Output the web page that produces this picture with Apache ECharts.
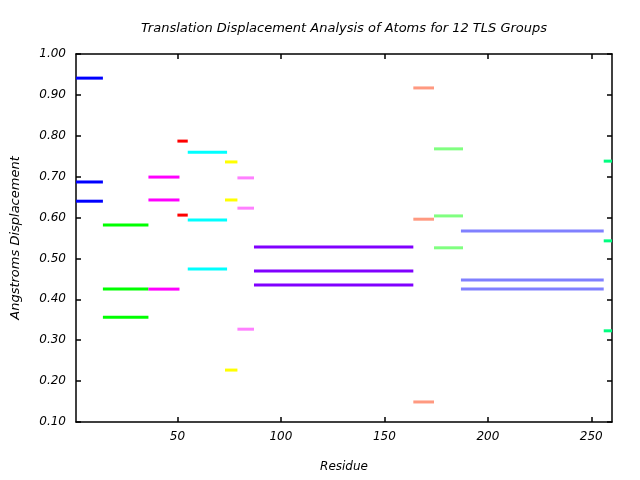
<!DOCTYPE html>
<html>
<head>
<meta charset="utf-8">
<script src="https://cdn.jsdelivr.net/npm/echarts@6/dist/echarts.min.js"></script>
<style>html,body{margin:0;padding:0;background:#fff}#c{width:640px;height:480px}</style>
</head>
<body>
<div id="c"></div>
<script>
// TLS groups: residue ranges and three translation displacement values each
const groupNames = ['TLS 1','TLS 2','TLS 3','TLS 4','TLS 5','TLS 6','TLS 7','TLS 8','TLS 9','TLS 10','TLS 11','TLS 12'];
const groupStart = [1, 14, 36, 50, 55, 73, 79, 87, 164, 174, 187, 256];
const groupEnd   = [14, 36, 51, 55, 74, 79, 87, 164, 174, 188, 256, 260];
const groupValues = [
  [0.941, 0.687, 0.640],
  [0.582, 0.425, 0.356],
  [0.699, 0.643, 0.425],
  [0.787, 0.606],
  [0.760, 0.594, 0.474],
  [0.736, 0.643, 0.227],
  [0.697, 0.623, 0.327],
  [0.528, 0.469, 0.435],
  [0.917, 0.596, 0.149],
  [0.768, 0.604, 0.526],
  [0.567, 0.447, 0.425],
  [0.738, 0.543, 0.323]
];
const groupColors = ['#0000ff','#00ff00','#ff00ff','#ff0000','#00ffff','#ffff00','#ff80ff','#8000ff','#ff9980','#80ff80','#8080ff','#00ff80'];
const xTicks = [50, 100, 150, 200, 250];
const yTicks = [0.1, 0.2, 0.3, 0.4, 0.5, 0.6, 0.7, 0.8, 0.9, 1.0];

const FONT = 'DejaVu Sans';
const base = {fontFamily: FONT, fontStyle: 'italic', color: '#000'};
const tickLab = Object.assign({fontSize: 12}, base);

const series = groupNames.map((name, g) => ({
  name: name,
  type: 'custom',
  coordinateSystem: 'cartesian2d',
  xAxisIndex: 0, yAxisIndex: 0,
  data: groupValues[g].map(v => [groupStart[g], groupEnd[g], v]),
  encode: {x: [0, 1], y: 2},
  clip: false,
  renderItem: function (params, api) {
    const p1 = api.coord([api.value(0), api.value(2)]);
    const p2 = api.coord([api.value(1), api.value(2)]);
    return {
      type: 'line',
      shape: {x1: p1[0], y1: p1[1], x2: p2[0], y2: p2[1]},
      style: {stroke: groupColors[g], lineWidth: 3}
    };
  }
}));

const axisLine = {show: true, onZero: false, lineStyle: {color: '#000', width: 1.5}};
const tick = {show: true, inside: true, length: 5, lineStyle: {color: '#000', width: 1.5}};

const chart = echarts.init(document.getElementById('c'));
chart.setOption({
  animation: false,
  backgroundColor: '#fff',
  title: {
    text: 'Translation Displacement Analysis of Atoms for 12 TLS Groups',
    left: 339, top: 17, textAlign: 'center',
    textStyle: Object.assign({fontWeight: 'normal', fontSize: 13}, base)
  },
  grid: {left: 76, right: 28, top: 54, bottom: 58},
  xAxis: [{
    type: 'value', min: 1, max: 260, position: 'bottom',
    name: 'Residue', nameLocation: 'middle', nameGap: 39,
    nameTextStyle: Object.assign({fontSize: 12}, base),
    axisLine: axisLine,
    axisTick: Object.assign({customValues: xTicks}, tick),
    axisLabel: Object.assign({customValues: xTicks, margin: 9}, tickLab),
    splitLine: {show: false}
  }, {
    type: 'value', min: 1, max: 260, position: 'top',
    axisLine: axisLine,
    axisTick: Object.assign({customValues: xTicks}, tick),
    axisLabel: {show: false},
    splitLine: {show: false}
  }],
  yAxis: [{
    type: 'value', min: 0.1, max: 1.0, position: 'left',
    name: 'Angstroms Displacement', nameLocation: 'middle', nameGap: 54, nameRotate: 90,
    nameTextStyle: Object.assign({fontSize: 13}, base),
    axisLine: axisLine,
    axisTick: Object.assign({customValues: yTicks}, tick),
    axisLabel: Object.assign({customValues: yTicks, margin: 10, formatter: v => v.toFixed(2)}, tickLab),
    splitLine: {show: false}
  }, {
    type: 'value', min: 0.1, max: 1.0, position: 'right',
    axisLine: axisLine,
    axisTick: Object.assign({customValues: yTicks}, tick),
    axisLabel: {show: false},
    splitLine: {show: false}
  }],
  series: series
});
</script>
</body>
</html>
